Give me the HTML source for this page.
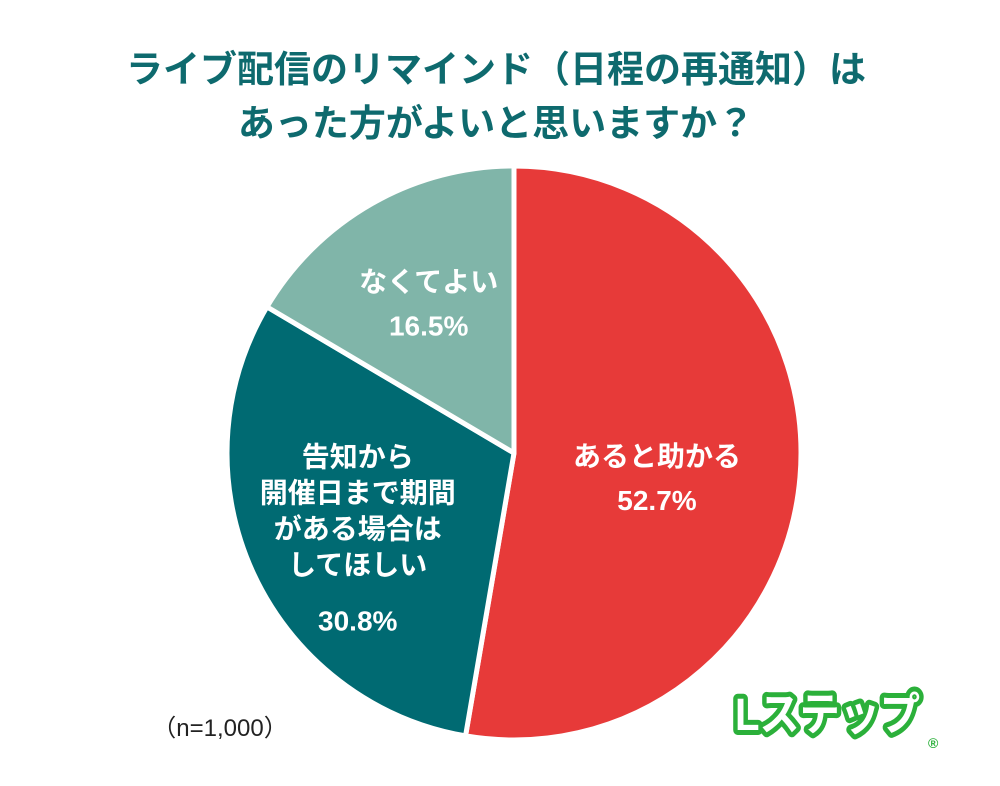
<!DOCTYPE html>
<html><head><meta charset="utf-8"><style>
body{margin:0;width:1000px;height:786px;background:#fff;overflow:hidden;font-family:"Liberation Sans","Noto Sans CJK JP",sans-serif;}
svg{display:block}
</style></head><body>
<svg id="chart" width="1000" height="786">
<text x="496" y="82" text-anchor="middle" font-size="37" font-weight="bold" fill="#0e6a6e" font-family="Liberation Sans,Noto Sans CJK JP,sans-serif">ライブ配信のリマインド（日程の再通知）は</text>
<text x="496" y="136" text-anchor="middle" font-size="37" font-weight="bold" fill="#0e6a6e" font-family="Liberation Sans,Noto Sans CJK JP,sans-serif">あった方がよいと思いますか？</text>
<g id="slices"></g>
<g id="labels" font-family="Liberation Sans,Noto Sans CJK JP,sans-serif" font-weight="bold" fill="#fff" text-anchor="middle" font-size="28"></g>
<text x="220" y="736" text-anchor="middle" font-size="24" fill="#222" font-family="Liberation Sans,Noto Sans CJK JP,sans-serif">（n=1,000）</text>
<g font-family="Liberation Sans,Noto Sans CJK JP,sans-serif" font-weight="bold">
<text x="735" y="730" font-size="45" fill="#fff" stroke="#2bb03a" stroke-width="10" stroke-linejoin="round" paint-order="stroke" textLength="185" lengthAdjust="spacingAndGlyphs">Lステップ</text>
<text x="928" y="748" font-size="14" fill="#2bb03a">®</text>
</g>
</svg>
<script>
const categories=["あると助かる","告知から開催日まで期間がある場合はしてほしい","なくてよい"];
const values=[52.7,30.8,16.5];
const valueLabels=["52.7%","30.8%","16.5%"];
const colors=["#e73a39","#006a72","#80b5a9"];
const labelLines=[["あると助かる"],["告知から","開催日まで期間","がある場合は","してほしい"],["なくてよい"]];
const cx=514,cy=453,r=287;
const NS="http://www.w3.org/2000/svg";
const total=values.reduce((a,b)=>a+b,0);
function pt(a,rr){return [cx+rr*Math.sin(a),cy-rr*Math.cos(a)];}
const gs=document.getElementById('slices'),gl=document.getElementById('labels');
const yShift=[13,13,0];
let start=0;
values.forEach((v,i)=>{
 const ang=v/total*2*Math.PI,end=start+ang;
 const p1=pt(start,r),p2=pt(end,r);
 const p=document.createElementNS(NS,'path');
 p.setAttribute('d',`M${cx},${cy}L${p1[0]},${p1[1]}A${r},${r} 0 ${ang>Math.PI?1:0} 1 ${p2[0]},${p2[1]}Z`);
 p.setAttribute('fill',colors[i]);p.setAttribute('stroke','#fff');p.setAttribute('stroke-width','5');p.setAttribute('stroke-linejoin','round');
 
 
 gs.appendChild(p);
 const mid=start+ang/2;
 const rr=i===0?0.5*r:0.6*r;
 const c=pt(mid,rr);
 const lines=labelLines[i];
 const lh=36;
 const extra=i===1?56:44;
 const h=(lines.length-1)*lh+extra;
 let y0=c[1]-h/2+10+yShift[i];
 lines.forEach((t,j)=>{
  const tx=document.createElementNS(NS,'text');
  tx.setAttribute('x',c[0]);tx.setAttribute('y',y0+j*lh);tx.textContent=t;
  
  
  gl.appendChild(tx);
 });
 const tv=document.createElementNS(NS,'text');
 tv.setAttribute('x',c[0]);tv.setAttribute('y',y0+(lines.length-1)*lh+extra);tv.textContent=valueLabels[i];
 
 
 gl.appendChild(tv);
 start=end;
});
</script>
</body></html>
